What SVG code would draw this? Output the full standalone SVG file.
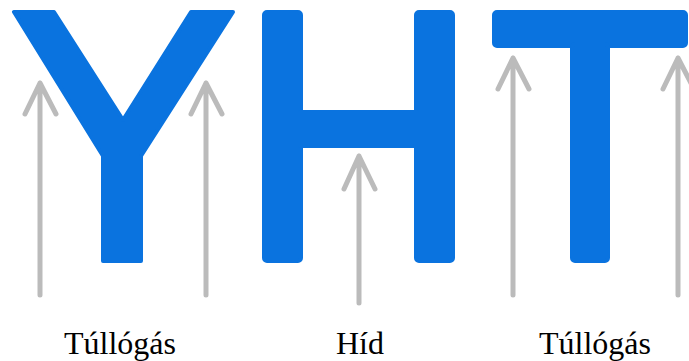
<svg xmlns="http://www.w3.org/2000/svg" width="689" height="361" viewBox="0 0 689 361">
<defs>
<style>
.letter{fill:#0a73df;stroke:#0a73df;stroke-width:4;stroke-linejoin:round}
.arrow{fill:none;stroke:#bbbbbb;stroke-width:5;stroke-linecap:round;stroke-linejoin:round}
.label{font-family:"Liberation Serif","Times New Roman",serif;font-size:32px;fill:#000;text-anchor:middle}
</style>
</defs>
<rect width="689" height="361" fill="#ffffff"/>
<g id="letter-Y">
<polygon class="letter" points="14,12 54,12 123,120 191,12 233,12 141,156 141,261 103,261 103,156"/>
</g>
<g id="letter-H">
<rect class="letter" x="264" y="12" width="37" height="249" rx="3"/>
<rect class="letter" x="416" y="12" width="37" height="249" rx="3"/>
<rect class="letter" x="300" y="112" width="117" height="34"/>
</g>
<g id="letter-T">
<rect class="letter" x="494" y="12" width="192" height="34" rx="3"/>
<rect class="letter" x="572" y="44" width="36" height="217" rx="3"/>
</g>
<g id="connectors">
<path class="arrow" d="M40,295 V83 M25,114 L40,83 L56,114"/>
<path class="arrow" d="M206,295 V83 M191,114 L206,83 L222,114"/>
<path class="arrow" d="M359,303 V156 M344,189 L359,156 L375,189"/>
<path class="arrow" d="M513,295 V58 M498,89 L513,58 L529,89"/>
<path class="arrow" d="M678,295 V58 M663,89 L678,58 L694,89"/>
</g>
<g id="labels">
<text class="label" x="120" y="354">Túllógás</text>
<text class="label" x="360" y="354">Híd</text>
<text class="label" x="595" y="354">Túllógás</text>
</g>
</svg>
